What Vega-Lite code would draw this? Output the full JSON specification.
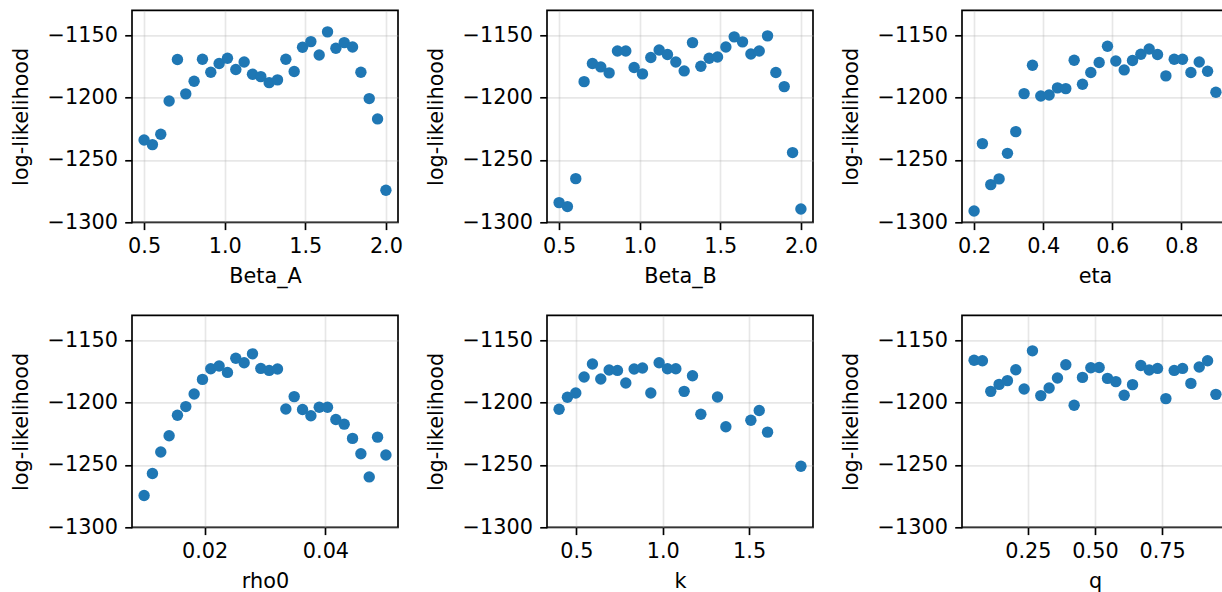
{
  "$schema": "https://vega.github.io/schema/vega-lite/v6.json",
  "padding": {"left": 9, "top": 9.3, "right": 0, "bottom": 0},
  "background": "white",
  "columns": 3,
  "bounds": "flush",
  "spacing": {"row": 93, "column": 149},
  "datasets": {
    "beta_a": [
      {"x": 0.5, "ll": -1234}, {"x": 0.5517, "ll": -1237.7}, {"x": 0.6034, "ll": -1229.4}, {"x": 0.6552, "ll": -1202.7},
      {"x": 0.7069, "ll": -1169.5}, {"x": 0.7586, "ll": -1197}, {"x": 0.8103, "ll": -1186.9}, {"x": 0.8621, "ll": -1169.3},
      {"x": 0.9138, "ll": -1179.7}, {"x": 0.9655, "ll": -1172.7}, {"x": 1.0172, "ll": -1168.4}, {"x": 1.069, "ll": -1177.5},
      {"x": 1.1207, "ll": -1171.4}, {"x": 1.1724, "ll": -1181.3}, {"x": 1.2241, "ll": -1183.2}, {"x": 1.2759, "ll": -1188},
      {"x": 1.3276, "ll": -1185.8}, {"x": 1.3793, "ll": -1169.3}, {"x": 1.431, "ll": -1179.1}, {"x": 1.4828, "ll": -1159.6},
      {"x": 1.5345, "ll": -1155.1}, {"x": 1.5862, "ll": -1165.8}, {"x": 1.6379, "ll": -1147.3}, {"x": 1.6897, "ll": -1160.4},
      {"x": 1.7414, "ll": -1155.9}, {"x": 1.7931, "ll": -1159.4}, {"x": 1.8448, "ll": -1179.7}, {"x": 1.8966, "ll": -1200.8},
      {"x": 1.9483, "ll": -1217.1}, {"x": 2.0, "ll": -1274.3}
    ],
    "beta_b": [
      {"x": 0.5, "ll": -1284.2}, {"x": 0.5517, "ll": -1287.4}, {"x": 0.6034, "ll": -1265}, {"x": 0.6552, "ll": -1187.2},
      {"x": 0.7069, "ll": -1172.7}, {"x": 0.7586, "ll": -1175.4}, {"x": 0.8103, "ll": -1180.2}, {"x": 0.8621, "ll": -1162.6},
      {"x": 0.9138, "ll": -1162.6}, {"x": 0.9655, "ll": -1175.9}, {"x": 1.0172, "ll": -1181}, {"x": 1.069, "ll": -1167.9},
      {"x": 1.1207, "ll": -1161.8}, {"x": 1.1724, "ll": -1165.5}, {"x": 1.2241, "ll": -1171.4}, {"x": 1.2759, "ll": -1178.6},
      {"x": 1.3276, "ll": -1155.9}, {"x": 1.3793, "ll": -1174.9}, {"x": 1.431, "ll": -1168.4}, {"x": 1.4828, "ll": -1167.4},
      {"x": 1.5345, "ll": -1159.4}, {"x": 1.5862, "ll": -1151.3}, {"x": 1.6379, "ll": -1155.3}, {"x": 1.6897, "ll": -1165},
      {"x": 1.7414, "ll": -1162.6}, {"x": 1.7931, "ll": -1150.5}, {"x": 1.8448, "ll": -1179.9}, {"x": 1.8966, "ll": -1191.2},
      {"x": 1.9483, "ll": -1244.1}, {"x": 2.0, "ll": -1289.3}
    ],
    "eta": [
      {"x": 0.2, "ll": -1290.9}, {"x": 0.2241, "ll": -1236.9}, {"x": 0.2483, "ll": -1269.8}, {"x": 0.2724, "ll": -1265.2},
      {"x": 0.2966, "ll": -1244.7}, {"x": 0.3207, "ll": -1227.3}, {"x": 0.3448, "ll": -1196.8}, {"x": 0.369, "ll": -1174.1},
      {"x": 0.3931, "ll": -1198.7}, {"x": 0.4172, "ll": -1197.9}, {"x": 0.4414, "ll": -1192.2}, {"x": 0.4655, "ll": -1192.8},
      {"x": 0.4897, "ll": -1170.1}, {"x": 0.5138, "ll": -1189.3}, {"x": 0.5379, "ll": -1179.9}, {"x": 0.5621, "ll": -1171.9},
      {"x": 0.5862, "ll": -1158.8}, {"x": 0.6103, "ll": -1170.6}, {"x": 0.6345, "ll": -1177.8}, {"x": 0.6586, "ll": -1170.3},
      {"x": 0.6828, "ll": -1165.2}, {"x": 0.7069, "ll": -1161}, {"x": 0.731, "ll": -1165.5}, {"x": 0.7552, "ll": -1182.6},
      {"x": 0.7793, "ll": -1169.3}, {"x": 0.8034, "ll": -1169.3}, {"x": 0.8276, "ll": -1179.9}, {"x": 0.8517, "ll": -1171.4},
      {"x": 0.8759, "ll": -1178.9}, {"x": 0.9, "ll": -1195.7}
    ],
    "rho0": [
      {"x": 0.01, "ll": -1274.5}, {"x": 0.01138, "ll": -1256.9}, {"x": 0.01276, "ll": -1239.6}, {"x": 0.01414, "ll": -1226.6},
      {"x": 0.01552, "ll": -1210.1}, {"x": 0.0169, "ll": -1203.2}, {"x": 0.01828, "ll": -1193.1}, {"x": 0.01966, "ll": -1181.4},
      {"x": 0.02103, "ll": -1172.9}, {"x": 0.02241, "ll": -1170.7}, {"x": 0.02379, "ll": -1175.8}, {"x": 0.02517, "ll": -1164.4},
      {"x": 0.02655, "ll": -1168.1}, {"x": 0.02793, "ll": -1160.9}, {"x": 0.02931, "ll": -1172.6}, {"x": 0.03069, "ll": -1174.2},
      {"x": 0.03207, "ll": -1173.1}, {"x": 0.03345, "ll": -1205.1}, {"x": 0.03483, "ll": -1195.2}, {"x": 0.03621, "ll": -1205.6},
      {"x": 0.03759, "ll": -1210.6}, {"x": 0.03897, "ll": -1203.7}, {"x": 0.04034, "ll": -1203.7}, {"x": 0.04172, "ll": -1213.6},
      {"x": 0.0431, "ll": -1217.3}, {"x": 0.04448, "ll": -1228.7}, {"x": 0.04586, "ll": -1241}, {"x": 0.04724, "ll": -1259.6},
      {"x": 0.04862, "ll": -1227.7}, {"x": 0.05, "ll": -1242}
    ],
    "k": [
      {"x": 0.4, "ll": -1205.3}, {"x": 0.4483, "ll": -1195.7}, {"x": 0.4966, "ll": -1192.3}, {"x": 0.5448, "ll": -1179.5},
      {"x": 0.5931, "ll": -1169.1}, {"x": 0.6414, "ll": -1181.1}, {"x": 0.6897, "ll": -1173.9}, {"x": 0.7379, "ll": -1174.2},
      {"x": 0.7862, "ll": -1184.3}, {"x": 0.8345, "ll": -1173.1}, {"x": 0.8828, "ll": -1172.3}, {"x": 0.931, "ll": -1192.3},
      {"x": 0.9793, "ll": -1168.1}, {"x": 1.0276, "ll": -1172.9}, {"x": 1.0759, "ll": -1172.9}, {"x": 1.1241, "ll": -1191},
      {"x": 1.1724, "ll": -1178.5}, {"x": 1.2207, "ll": -1209.3}, {"x": 1.3172, "ll": -1195.5}, {"x": 1.3655, "ll": -1219.4},
      {"x": 1.5103, "ll": -1214.1}, {"x": 1.5586, "ll": -1206.4}, {"x": 1.6069, "ll": -1223.7}, {"x": 1.8, "ll": -1251.1}
    ],
    "q": [
      {"x": 0.05, "ll": -1166}, {"x": 0.081, "ll": -1166.5}, {"x": 0.1121, "ll": -1191}, {"x": 0.1431, "ll": -1185.4},
      {"x": 0.1741, "ll": -1182.4}, {"x": 0.2052, "ll": -1173.7}, {"x": 0.2362, "ll": -1189.1}, {"x": 0.2672, "ll": -1158.5},
      {"x": 0.2983, "ll": -1194.4}, {"x": 0.3293, "ll": -1188.3}, {"x": 0.3603, "ll": -1180.3}, {"x": 0.3914, "ll": -1169.7},
      {"x": 0.4224, "ll": -1202.1}, {"x": 0.4534, "ll": -1179.8}, {"x": 0.4845, "ll": -1172.1}, {"x": 0.5155, "ll": -1171.8},
      {"x": 0.5466, "ll": -1180.6}, {"x": 0.5776, "ll": -1183.2}, {"x": 0.6086, "ll": -1194.1}, {"x": 0.6397, "ll": -1185.6},
      {"x": 0.6707, "ll": -1170.2}, {"x": 0.7017, "ll": -1173.9}, {"x": 0.7328, "ll": -1172.6}, {"x": 0.7638, "ll": -1196.8},
      {"x": 0.7948, "ll": -1174.2}, {"x": 0.8259, "ll": -1172.6}, {"x": 0.8569, "ll": -1184.6}, {"x": 0.8879, "ll": -1171.5},
      {"x": 0.919, "ll": -1166.5}, {"x": 0.95, "ll": -1193.4}
    ]
  },
  "concat": [
    {
      "width": 266, "height": 212,
      "data": {"name": "beta_a"},
      "mark": {"type": "circle", "color": "#1f77b4", "opacity": 1, "size": 130},
      "encoding": {
        "x": {"field": "x", "type": "quantitative", "title": "Beta_A", "scale": {"domain": [0.425, 2.075], "nice": false, "zero": false}, "axis": {"values": [0.5, 1, 1.5, 2], "format": ".1f"}},
        "y": {"field": "ll", "type": "quantitative", "title": "log-likelihood", "scale": {"domain": [-1300, -1130], "nice": false, "zero": false}, "axis": {"values": [-1300, -1250, -1200, -1150], "format": "d"}}
      }
    },
    {
      "width": 266, "height": 212,
      "data": {"name": "beta_b"},
      "mark": {"type": "circle", "color": "#1f77b4", "opacity": 1, "size": 130},
      "encoding": {
        "x": {"field": "x", "type": "quantitative", "title": "Beta_B", "scale": {"domain": [0.425, 2.075], "nice": false, "zero": false}, "axis": {"values": [0.5, 1, 1.5, 2], "format": ".1f"}},
        "y": {"field": "ll", "type": "quantitative", "title": "log-likelihood", "scale": {"domain": [-1300, -1130], "nice": false, "zero": false}, "axis": {"values": [-1300, -1250, -1200, -1150], "format": "d"}}
      }
    },
    {
      "width": 266, "height": 212,
      "data": {"name": "eta"},
      "mark": {"type": "circle", "color": "#1f77b4", "opacity": 1, "size": 130},
      "encoding": {
        "x": {"field": "x", "type": "quantitative", "title": "eta", "scale": {"domain": [0.165, 0.935], "nice": false, "zero": false}, "axis": {"values": [0.2, 0.4, 0.6, 0.8], "format": ".1f"}},
        "y": {"field": "ll", "type": "quantitative", "title": "log-likelihood", "scale": {"domain": [-1300, -1130], "nice": false, "zero": false}, "axis": {"values": [-1300, -1250, -1200, -1150], "format": "d"}}
      }
    },
    {
      "width": 266, "height": 212,
      "data": {"name": "rho0"},
      "mark": {"type": "circle", "color": "#1f77b4", "opacity": 1, "size": 130},
      "encoding": {
        "x": {"field": "x", "type": "quantitative", "title": "rho0", "scale": {"domain": [0.008, 0.052], "nice": false, "zero": false}, "axis": {"values": [0.02, 0.04], "format": ".2f"}},
        "y": {"field": "ll", "type": "quantitative", "title": "log-likelihood", "scale": {"domain": [-1300, -1130], "nice": false, "zero": false}, "axis": {"values": [-1300, -1250, -1200, -1150], "format": "d"}}
      }
    },
    {
      "width": 266, "height": 212,
      "data": {"name": "k"},
      "mark": {"type": "circle", "color": "#1f77b4", "opacity": 1, "size": 130},
      "encoding": {
        "x": {"field": "x", "type": "quantitative", "title": "k", "scale": {"domain": [0.33, 1.87], "nice": false, "zero": false}, "axis": {"values": [0.5, 1, 1.5], "format": ".1f"}},
        "y": {"field": "ll", "type": "quantitative", "title": "log-likelihood", "scale": {"domain": [-1300, -1130], "nice": false, "zero": false}, "axis": {"values": [-1300, -1250, -1200, -1150], "format": "d"}}
      }
    },
    {
      "width": 266, "height": 212,
      "data": {"name": "q"},
      "mark": {"type": "circle", "color": "#1f77b4", "opacity": 1, "size": 130},
      "encoding": {
        "x": {"field": "x", "type": "quantitative", "title": "q", "scale": {"domain": [0.005, 0.995], "nice": false, "zero": false}, "axis": {"values": [0.25, 0.5, 0.75], "format": ".2f"}},
        "y": {"field": "ll", "type": "quantitative", "title": "log-likelihood", "scale": {"domain": [-1300, -1130], "nice": false, "zero": false}, "axis": {"values": [-1300, -1250, -1200, -1150], "format": "d"}}
      }
    }
  ],
  "config": {
    "view": {"stroke": "black", "strokeWidth": 1.67},
    "axis": {
      "domain": false,
      "tickColor": "black", "tickWidth": 1.67, "tickSize": 7.3,
      "labelFont": "DejaVu Sans", "labelFontSize": 20.8, "labelColor": "black", "labelPadding": 7.3,
      "labelFlush": false, "labelOverlap": false,
      "titleFont": "DejaVu Sans", "titleFontSize": 20.8, "titleFontWeight": "normal", "titleColor": "black",
      "gridColor": "#b0b0b0", "gridOpacity": 0.3, "gridWidth": 1.67
    },
    "axisY": {"titlePadding": 16},
    "axisX": {"titlePadding": 10}
  }
}
